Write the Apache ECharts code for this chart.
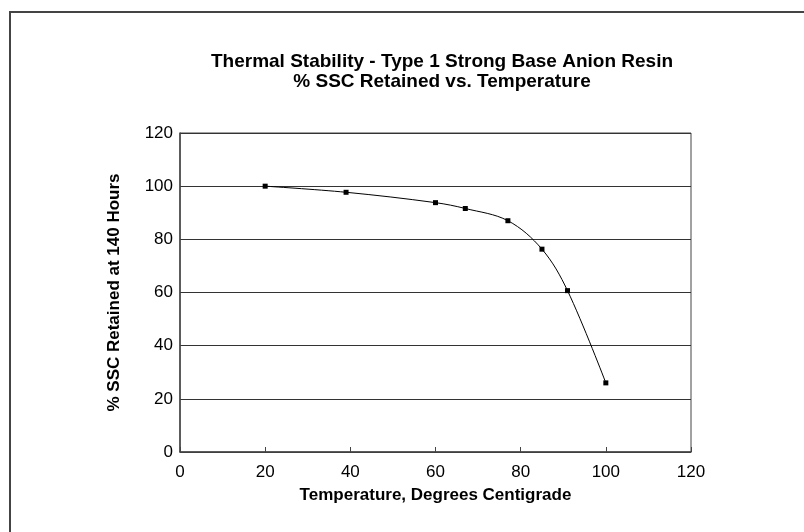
<!DOCTYPE html>
<html>
<head>
<meta charset="utf-8">
<script src="https://cdn.jsdelivr.net/npm/echarts@6/dist/echarts.min.js"></script>
<style>
  html, body { margin: 0; padding: 0; background: #fff; }
  #chart { width: 804px; height: 532px; }
</style>
</head>
<body>
<div id="chart"></div>
<script>
// temperature (deg C) and % SSC retained after 140 hours
const temps = [20, 39, 60, 67, 77, 85, 91, 100]
const retained = [100, 97.7, 93.8, 91.6, 87, 76.3, 60.7, 26]
const titleLines = ['Thermal Stability - Type 1 Strong Base Anion Resin', '% SSC Retained vs. Temperature']
const xName = 'Temperature, Degrees Centigrade'
const yName = '% SSC Retained at 140 Hours'

const fontFamily = '"Liberation Sans", Arial, sans-serif'
const chart = echarts.init(document.getElementById('chart'))
chart.setOption({
  backgroundColor: '#fff',
  animation: false,
  title: {
    text: titleLines.join('\n'),
    left: 437,
    textAlign: 'center',
    top: 47,
    textStyle: {
      color: '#000',
      fontFamily: fontFamily,
      fontWeight: 'bold',
      fontSize: 19,
      lineHeight: 20
    }
  },
  graphic: [{
    type: 'rect',
    shape: { x: 10, y: 12, width: 1000, height: 1000 },
    style: { fill: 'none', stroke: '#444', lineWidth: 2 },
    silent: true
  }],
  grid: {
    left: 180,
    right: 113,
    top: 133,
    bottom: 80,
    show: true,
    borderColor: '#444',
    borderWidth: 1
  },
  xAxis: {
    type: 'value',
    min: 0,
    max: 120,
    interval: 20,
    name: xName,
    nameLocation: 'middle',
    nameGap: 35,
    nameTextStyle: { color: '#000', fontFamily: fontFamily, fontWeight: 'bold', fontSize: 17 },
    axisLine: { lineStyle: { color: '#444', width: 1.5 } },
    axisTick: { show: true, inside: true, length: 5, lineStyle: { color: '#444' } },
    axisLabel: { color: '#000', fontFamily: fontFamily, fontSize: 17, margin: 12 },
    splitLine: { show: false }
  },
  yAxis: {
    type: 'value',
    min: 0,
    max: 120,
    interval: 20,
    name: yName,
    nameLocation: 'middle',
    nameGap: 57,
    nameTextStyle: { color: '#000', fontFamily: fontFamily, fontWeight: 'bold', fontSize: 17 },
    axisLine: { show: true, lineStyle: { color: '#444', width: 1.5 } },
    axisTick: { show: false },
    axisLabel: { color: '#000', fontFamily: fontFamily, fontSize: 17, margin: 7 },
    splitLine: { show: true, lineStyle: { color: '#333', width: 1 } }
  },
  series: [{
    type: 'line',
    data: temps.map((t, i) => [t, retained[i]]),
    smooth: 0.35,
    symbol: 'rect',
    symbolSize: 5,
    itemStyle: { color: '#000' },
    lineStyle: { color: '#000', width: 1 }
  }]
})
</script>
</body>
</html>
